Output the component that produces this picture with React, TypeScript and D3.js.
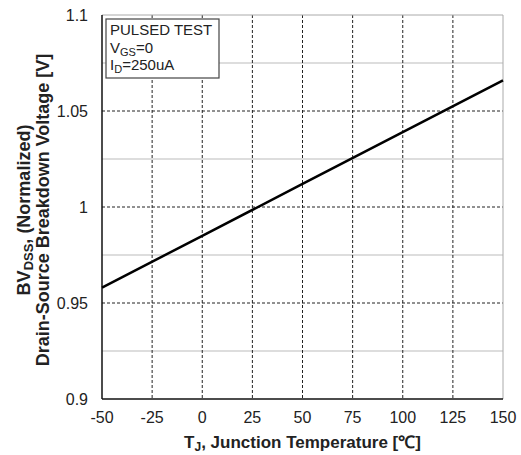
import React, { useEffect, useRef } from 'react';
import * as d3 from 'd3';

// readings
const tempC = [-50, 0, 50, 100, 150];
const bvNorm = [0.958, 0.985, 1.012, 1.039, 1.066];

const xTicks = [-50, -25, 0, 25, 50, 75, 100, 125, 150];
const yMajor = [0.9, 0.95, 1, 1.05, 1.1];
const yMinor = [0.925, 0.975, 1.025, 1.075];
const legendLines = ['PULSED TEST', 'V|GS|=0', 'I|D|=250uA'];

const W = 521;
const H = 455;
const margin = { top: 15, right: 18, bottom: 56, left: 102 };

export default function App() {
  const svgRef = useRef<SVGSVGElement>(null);

  useEffect(() => {
    const root = d3.select(svgRef.current);
    root.selectAll('*').remove();
    const width = W - margin.left - margin.right;
    const height = H - margin.top - margin.bottom;
    const font = 'Liberation Sans, Arial, sans-serif';
    const ink = '#222';

    const svg = root.append('g').attr('transform', `translate(${margin.left},${margin.top})`);

    const x = d3.scaleLinear().domain([-50, 150]).range([0, width]);
    const y = d3.scaleLinear().domain([0.9, 1.1]).range([height, 0]);

    // light minor grid
    svg.selectAll('.minor').data(yMinor).enter().append('line')
      .attr('x1', 0).attr('x2', width)
      .attr('y1', (d) => y(d)).attr('y2', (d) => y(d))
      .attr('stroke', '#bbb').attr('stroke-width', 1);

    // dashed major grid
    svg.selectAll('.vgrid').data(xTicks.slice(1, -1)).enter().append('line')
      .attr('x1', (d) => x(d)).attr('x2', (d) => x(d))
      .attr('y1', 0).attr('y2', height)
      .attr('stroke', '#222').attr('stroke-width', 1).attr('stroke-dasharray', '3,2');
    svg.selectAll('.hgrid').data(yMajor.slice(1, -1)).enter().append('line')
      .attr('x1', 0).attr('x2', width)
      .attr('y1', (d) => y(d)).attr('y2', (d) => y(d))
      .attr('stroke', '#222').attr('stroke-width', 1).attr('stroke-dasharray', '3,2');

    // frame: top/right light, left/bottom dark
    svg.append('line').attr('x1', 0).attr('x2', width).attr('y1', 0).attr('y2', 0).attr('stroke', '#aaa');
    svg.append('line').attr('x1', width).attr('x2', width).attr('y1', 0).attr('y2', height).attr('stroke', '#aaa');
    svg.append('line').attr('x1', 0).attr('x2', 0).attr('y1', 0).attr('y2', height).attr('stroke', '#111').attr('stroke-width', 1.5);
    svg.append('line').attr('x1', 0).attr('x2', width).attr('y1', height).attr('y2', height).attr('stroke', '#111').attr('stroke-width', 1.5);

    // curve
    const line = d3.line<number>().x((d, i) => x(tempC[i])).y((d) => y(d));
    svg.append('path').datum(bvNorm).attr('d', line)
      .attr('fill', 'none').attr('stroke', '#000').attr('stroke-width', 2.5);

    // tick labels
    svg.selectAll('.xt').data(xTicks).enter().append('text')
      .attr('x', (d) => x(d)).attr('y', height + 24)
      .attr('text-anchor', 'middle').attr('font-family', font).attr('font-size', 16).attr('fill', ink)
      .text((d) => String(d));
    svg.selectAll('.yt').data(yMajor).enter().append('text')
      .attr('x', -14).attr('y', (d) => y(d) + 6)
      .attr('text-anchor', 'end').attr('font-family', font).attr('font-size', 16).attr('fill', ink)
      .text((d) => String(d));

    // legend box
    svg.append('rect').attr('x', 4).attr('y', 4).attr('width', 113).attr('height', 59)
      .attr('fill', '#fff').attr('stroke', '#444').attr('stroke-width', 1.2);
    legendLines.forEach((s, i) => {
      const parts = s.split('|');
      const t = svg.append('text').attr('x', 8).attr('y', 20 + i * 17.5)
        .attr('font-family', font).attr('font-size', 15).attr('fill', ink);
      t.append('tspan').text(parts[0]);
      if (parts.length > 1) {
        t.append('tspan').attr('font-size', 11).attr('dy', 3).text(parts[1]);
        t.append('tspan').attr('dy', -3).text(parts[2]);
      }
    });

    // x title
    const xt = svg.append('text').attr('x', width / 2).attr('y', height + 49)
      .attr('text-anchor', 'middle').attr('font-family', font).attr('font-size', 17)
      .attr('font-weight', 'bold').attr('fill', ink);
    xt.append('tspan').text('T');
    xt.append('tspan').attr('font-size', 12).attr('dy', 3).text('J');
    xt.append('tspan').attr('dy', -3).text(', Junction Temperature [℃]');

    // y title, two lines
    const cy = 195;
    const yt1 = svg.append('text').attr('transform', `translate(${-72},${cy}) rotate(-90)`)
      .attr('text-anchor', 'middle').attr('font-family', font).attr('font-size', 18)
      .attr('font-weight', 'bold').attr('fill', ink);
    yt1.append('tspan').text('BV');
    yt1.append('tspan').attr('font-size', 13).attr('dy', 3).text('DSS');
    yt1.append('tspan').attr('dy', -3).text(', (Normalized)');
    svg.append('text').attr('transform', `translate(${-53},${cy}) rotate(-90)`)
      .attr('text-anchor', 'middle').attr('font-family', font).attr('font-size', 18)
      .attr('font-weight', 'bold').attr('fill', ink)
      .text('Drain-Source Breakdown Voltage [V]');
  }, []);

  return (
    <svg ref={svgRef} width={W} height={H} style={{ position: 'absolute', left: 0, top: 0 }} />
  );
}
